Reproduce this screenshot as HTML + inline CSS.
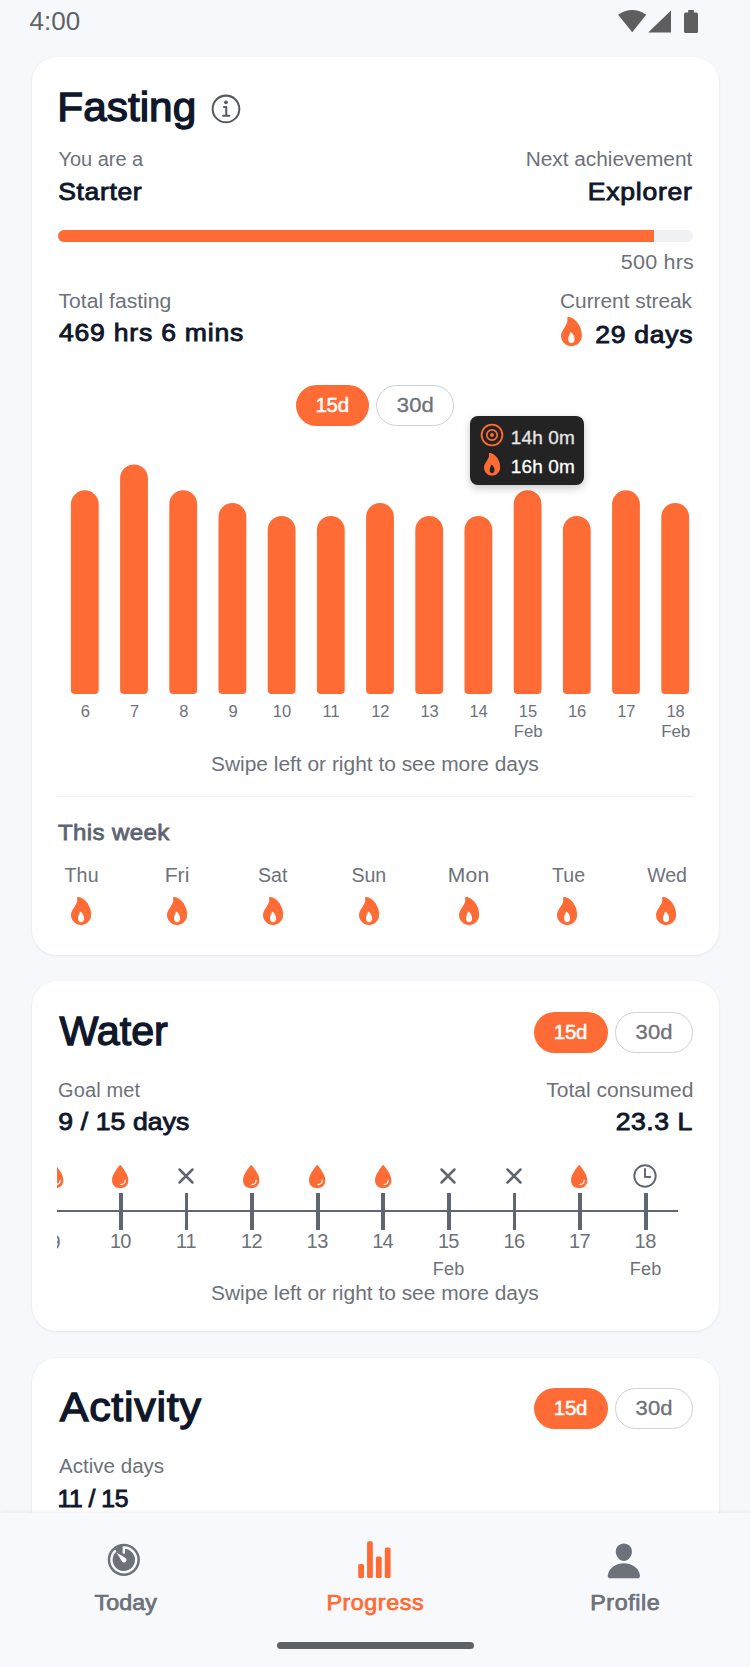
<!DOCTYPE html>
<html lang="en"><head><meta charset="utf-8"><title>Progress</title>
<meta name="viewport" content="width=750">
<style>
*{margin:0;padding:0;box-sizing:border-box}
html,body{width:750px;height:1667px;overflow:hidden;background:#f7f8fc}
body{position:relative;font-family:"Liberation Sans",Arial,sans-serif}
.t{position:absolute;white-space:nowrap;line-height:1;transform-origin:0 50%}
.card{position:absolute;left:31.7px;width:686.9px;background:#fff;border-radius:25px;box-shadow:0 1px 3px rgba(30,35,60,.07),0 0 2px rgba(30,35,60,.04)}
.abs{position:absolute}
.pill{position:absolute;height:41px;border-radius:21px}
.pill.on{background:#ff6b35}
.pill.off{border:1.5px solid #cdd1d8;background:#fff}
.bar{position:absolute;width:27.6px;background:#ff6b35;border-radius:14px 14px 3.5px 3.5px}
svg{position:absolute;overflow:visible}
</style></head><body>

<div class="card" style="top:56.7px;height:898.3px"></div>
<div class="card" style="top:981px;height:349.8px"></div>
<div class="card" style="top:1357.5px;height:400px"></div>
<svg style="left:0;top:0" width="750" height="45" viewBox="0 0 750 45"><g fill="#5e5e5e"><path d="M632.2 32.2 L618.2 14.8 A22.5 22.5 0 0 1 646.2 14.8 Z"/><path d="M671 10.4 V32.5 H648.2 Z"/><path d="M688.2 9.9 h5.6 v2.6 h2.6 a1.6 1.6 0 0 1 1.6 1.6 v17.4 a1.6 1.6 0 0 1 -1.6 1.6 h-10.8 a1.6 1.6 0 0 1 -1.6 -1.6 v-17.4 a1.6 1.6 0 0 1 1.6 -1.6 h2.6 z"/></g></svg>
<svg style="left:208.03px;top:91.33px" width="37.11" height="37.11" viewBox="0 0 512 512"><g fill="none" stroke="#565b63" stroke-width="28" stroke-linecap="round" stroke-linejoin="round"><circle cx="248" cy="248" r="184"/><path d="M220 220h32v116"/><path d="M208 340h88"/></g><circle cx="248" cy="156" r="26" fill="#565b63"/></svg>
<div class="abs" style="left:58px;top:230.2px;width:634.5px;height:12px;border-radius:6px;background:#f0f1f4;overflow:hidden"><div style="width:596.3px;height:12px;background:#ff6b35"></div></div>
<svg style="left:561.20px;top:317.00px" width="20.86" height="29.20" viewBox="96 32 320 448"><path fill="#ff6b35" d="M394.23 197.56a300.43 300.43 0 00-53.38-90C301.2 61.65 249.05 32 208 32a16 16 0 00-15.48 20c13.87 53-14.88 97.07-45.31 143.72C122 234.36 96 274.27 96 320c0 88.22 71.78 160 160 160s160-71.78 160-160c0-43.3-7.32-84.49-21.77-122.44zm-105.9 221.13C278 429.69 265.05 432 256 432s-22-2.31-32.33-13.31S208 390.24 208 368c0-25.14 8.82-44.28 17.34-62.78 4.95-10.74 10-21.67 13-33.37a8 8 0 0112.49-4.51A126.48 126.48 0 01275 292c18.17 24 29 52.42 29 76 0 22.24-5.42 39.77-15.67 50.69z"/></svg>
<div class="pill on" style="left:295.5px;top:384.7px;width:73.8px"></div>
<div class="pill off" style="left:376px;top:384.7px;width:78px"></div>
<svg style="left:0;top:0" width="750" height="700" viewBox="0 0 750 700"><path fill="#ff6b35" d="M70.90 504.20 a13.90 13.90 0 0 1 27.80 0 V690.10 a4 4 0 0 1 -4 4 H74.90 a4 4 0 0 1 -4 -4 Z M120.10 478.30 a13.90 13.90 0 0 1 27.80 0 V690.10 a4 4 0 0 1 -4 4 H124.10 a4 4 0 0 1 -4 -4 Z M169.30 504.20 a13.90 13.90 0 0 1 27.80 0 V690.10 a4 4 0 0 1 -4 4 H173.30 a4 4 0 0 1 -4 -4 Z M218.50 516.90 a13.90 13.90 0 0 1 27.80 0 V690.10 a4 4 0 0 1 -4 4 H222.50 a4 4 0 0 1 -4 -4 Z M267.70 529.80 a13.90 13.90 0 0 1 27.80 0 V690.10 a4 4 0 0 1 -4 4 H271.70 a4 4 0 0 1 -4 -4 Z M316.90 529.80 a13.90 13.90 0 0 1 27.80 0 V690.10 a4 4 0 0 1 -4 4 H320.90 a4 4 0 0 1 -4 -4 Z M366.10 516.90 a13.90 13.90 0 0 1 27.80 0 V690.10 a4 4 0 0 1 -4 4 H370.10 a4 4 0 0 1 -4 -4 Z M415.30 529.80 a13.90 13.90 0 0 1 27.80 0 V690.10 a4 4 0 0 1 -4 4 H419.30 a4 4 0 0 1 -4 -4 Z M464.50 529.80 a13.90 13.90 0 0 1 27.80 0 V690.10 a4 4 0 0 1 -4 4 H468.50 a4 4 0 0 1 -4 -4 Z M513.70 504.20 a13.90 13.90 0 0 1 27.80 0 V690.10 a4 4 0 0 1 -4 4 H517.70 a4 4 0 0 1 -4 -4 Z M562.90 529.80 a13.90 13.90 0 0 1 27.80 0 V690.10 a4 4 0 0 1 -4 4 H566.90 a4 4 0 0 1 -4 -4 Z M612.10 504.20 a13.90 13.90 0 0 1 27.80 0 V690.10 a4 4 0 0 1 -4 4 H616.10 a4 4 0 0 1 -4 -4 Z M661.30 516.90 a13.90 13.90 0 0 1 27.80 0 V690.10 a4 4 0 0 1 -4 4 H665.30 a4 4 0 0 1 -4 -4 Z"/></svg>
<div class="abs" style="left:470.4px;top:415.5px;width:113.6px;height:69.8px;border-radius:8px;background:#232323;box-shadow:0 3px 9px rgba(0,0,0,.22)"></div>
<svg style="left:480px;top:423.2px" width="24" height="24" viewBox="0 0 24 24"><g fill="none" stroke="#ff6b35"><circle cx="12" cy="12" r="10.4" stroke-width="1.8"/><circle cx="12" cy="12" r="5.2" stroke-width="1.7"/></g><circle cx="12" cy="12" r="1.9" fill="#ff6b35"/></svg>
<svg style="left:484.20px;top:453.30px" width="16.14" height="22.60" viewBox="96 32 320 448"><path fill="#ff6b35" d="M394.23 197.56a300.43 300.43 0 00-53.38-90C301.2 61.65 249.05 32 208 32a16 16 0 00-15.48 20c13.87 53-14.88 97.07-45.31 143.72C122 234.36 96 274.27 96 320c0 88.22 71.78 160 160 160s160-71.78 160-160c0-43.3-7.32-84.49-21.77-122.44zm-105.9 221.13C278 429.69 265.05 432 256 432s-22-2.31-32.33-13.31S208 390.24 208 368c0-25.14 8.82-44.28 17.34-62.78 4.95-10.74 10-21.67 13-33.37a8 8 0 0112.49-4.51A126.48 126.48 0 01275 292c18.17 24 29 52.42 29 76 0 22.24-5.42 39.77-15.67 50.69z"/></svg>
<div class="abs" style="left:57px;top:795.5px;width:636px;height:1.5px;background:#f0f1f4"></div>
<svg style="left:70.90px;top:897.00px" width="20.14" height="28.20" viewBox="96 32 320 448"><path fill="#ff6b35" d="M394.23 197.56a300.43 300.43 0 00-53.38-90C301.2 61.65 249.05 32 208 32a16 16 0 00-15.48 20c13.87 53-14.88 97.07-45.31 143.72C122 234.36 96 274.27 96 320c0 88.22 71.78 160 160 160s160-71.78 160-160c0-43.3-7.32-84.49-21.77-122.44zm-105.9 221.13C278 429.69 265.05 432 256 432s-22-2.31-32.33-13.31S208 390.24 208 368c0-25.14 8.82-44.28 17.34-62.78 4.95-10.74 10-21.67 13-33.37a8 8 0 0112.49-4.51A126.48 126.48 0 01275 292c18.17 24 29 52.42 29 76 0 22.24-5.42 39.77-15.67 50.69z"/></svg>
<svg style="left:167.10px;top:897.00px" width="20.14" height="28.20" viewBox="96 32 320 448"><path fill="#ff6b35" d="M394.23 197.56a300.43 300.43 0 00-53.38-90C301.2 61.65 249.05 32 208 32a16 16 0 00-15.48 20c13.87 53-14.88 97.07-45.31 143.72C122 234.36 96 274.27 96 320c0 88.22 71.78 160 160 160s160-71.78 160-160c0-43.3-7.32-84.49-21.77-122.44zm-105.9 221.13C278 429.69 265.05 432 256 432s-22-2.31-32.33-13.31S208 390.24 208 368c0-25.14 8.82-44.28 17.34-62.78 4.95-10.74 10-21.67 13-33.37a8 8 0 0112.49-4.51A126.48 126.48 0 01275 292c18.17 24 29 52.42 29 76 0 22.24-5.42 39.77-15.67 50.69z"/></svg>
<svg style="left:262.90px;top:897.00px" width="20.14" height="28.20" viewBox="96 32 320 448"><path fill="#ff6b35" d="M394.23 197.56a300.43 300.43 0 00-53.38-90C301.2 61.65 249.05 32 208 32a16 16 0 00-15.48 20c13.87 53-14.88 97.07-45.31 143.72C122 234.36 96 274.27 96 320c0 88.22 71.78 160 160 160s160-71.78 160-160c0-43.3-7.32-84.49-21.77-122.44zm-105.9 221.13C278 429.69 265.05 432 256 432s-22-2.31-32.33-13.31S208 390.24 208 368c0-25.14 8.82-44.28 17.34-62.78 4.95-10.74 10-21.67 13-33.37a8 8 0 0112.49-4.51A126.48 126.48 0 01275 292c18.17 24 29 52.42 29 76 0 22.24-5.42 39.77-15.67 50.69z"/></svg>
<svg style="left:358.50px;top:897.00px" width="20.14" height="28.20" viewBox="96 32 320 448"><path fill="#ff6b35" d="M394.23 197.56a300.43 300.43 0 00-53.38-90C301.2 61.65 249.05 32 208 32a16 16 0 00-15.48 20c13.87 53-14.88 97.07-45.31 143.72C122 234.36 96 274.27 96 320c0 88.22 71.78 160 160 160s160-71.78 160-160c0-43.3-7.32-84.49-21.77-122.44zm-105.9 221.13C278 429.69 265.05 432 256 432s-22-2.31-32.33-13.31S208 390.24 208 368c0-25.14 8.82-44.28 17.34-62.78 4.95-10.74 10-21.67 13-33.37a8 8 0 0112.49-4.51A126.48 126.48 0 01275 292c18.17 24 29 52.42 29 76 0 22.24-5.42 39.77-15.67 50.69z"/></svg>
<svg style="left:458.60px;top:897.00px" width="20.14" height="28.20" viewBox="96 32 320 448"><path fill="#ff6b35" d="M394.23 197.56a300.43 300.43 0 00-53.38-90C301.2 61.65 249.05 32 208 32a16 16 0 00-15.48 20c13.87 53-14.88 97.07-45.31 143.72C122 234.36 96 274.27 96 320c0 88.22 71.78 160 160 160s160-71.78 160-160c0-43.3-7.32-84.49-21.77-122.44zm-105.9 221.13C278 429.69 265.05 432 256 432s-22-2.31-32.33-13.31S208 390.24 208 368c0-25.14 8.82-44.28 17.34-62.78 4.95-10.74 10-21.67 13-33.37a8 8 0 0112.49-4.51A126.48 126.48 0 01275 292c18.17 24 29 52.42 29 76 0 22.24-5.42 39.77-15.67 50.69z"/></svg>
<svg style="left:557.40px;top:897.00px" width="20.14" height="28.20" viewBox="96 32 320 448"><path fill="#ff6b35" d="M394.23 197.56a300.43 300.43 0 00-53.38-90C301.2 61.65 249.05 32 208 32a16 16 0 00-15.48 20c13.87 53-14.88 97.07-45.31 143.72C122 234.36 96 274.27 96 320c0 88.22 71.78 160 160 160s160-71.78 160-160c0-43.3-7.32-84.49-21.77-122.44zm-105.9 221.13C278 429.69 265.05 432 256 432s-22-2.31-32.33-13.31S208 390.24 208 368c0-25.14 8.82-44.28 17.34-62.78 4.95-10.74 10-21.67 13-33.37a8 8 0 0112.49-4.51A126.48 126.48 0 01275 292c18.17 24 29 52.42 29 76 0 22.24-5.42 39.77-15.67 50.69z"/></svg>
<svg style="left:655.90px;top:897.00px" width="20.14" height="28.20" viewBox="96 32 320 448"><path fill="#ff6b35" d="M394.23 197.56a300.43 300.43 0 00-53.38-90C301.2 61.65 249.05 32 208 32a16 16 0 00-15.48 20c13.87 53-14.88 97.07-45.31 143.72C122 234.36 96 274.27 96 320c0 88.22 71.78 160 160 160s160-71.78 160-160c0-43.3-7.32-84.49-21.77-122.44zm-105.9 221.13C278 429.69 265.05 432 256 432s-22-2.31-32.33-13.31S208 390.24 208 368c0-25.14 8.82-44.28 17.34-62.78 4.95-10.74 10-21.67 13-33.37a8 8 0 0112.49-4.51A126.48 126.48 0 01275 292c18.17 24 29 52.42 29 76 0 22.24-5.42 39.77-15.67 50.69z"/></svg>
<div class="pill on" style="left:533.5px;top:1011.7px;width:74.5px"></div>
<div class="pill off" style="left:615px;top:1011.7px;width:77.7px"></div>
<div class="pill on" style="left:533.5px;top:1387.7px;width:74.5px"></div>
<div class="pill off" style="left:615px;top:1387.7px;width:77.7px"></div>
<div class="abs" style="left:57.4px;top:1155px;width:640px;height:130px;overflow:hidden">
<div class="abs" style="left:0;top:54.55px;width:620.9px;height:2.3px;background:#5f6672"></div>
<div class="abs" style="left:-3.90px;top:38.30px;width:3.8px;height:36.5px;background:#5f6672"></div>
<svg style="left:-10.89px;top:9.80px" width="16.38" height="23.2" viewBox="112 56 288 408"><path fill="#ff6b35" fill-rule="evenodd" d="M265.12 60.12a12 12 0 00-18.23 0C215.23 97.15 112 225.17 112 320c0 88.37 55.64 144 144 144s144-55.63 144-144c0-94.830-103.23-222.85-134.88-259.88zM272 412a12 12 0 01-11.34-16 11.89 11.89 0 0111.410-8A60.06 60.06 0 00332 328.07a11.890 11.890 0 018-11.41A12 12 0 01356 328a84.090 84.090 0 01-84 84z"/></svg>
<div class="abs" style="left:61.70px;top:38.30px;width:3.8px;height:36.5px;background:#5f6672"></div>
<svg style="left:54.71px;top:9.80px" width="16.38" height="23.2" viewBox="112 56 288 408"><path fill="#ff6b35" fill-rule="evenodd" d="M265.12 60.12a12 12 0 00-18.23 0C215.23 97.15 112 225.17 112 320c0 88.37 55.64 144 144 144s144-55.63 144-144c0-94.830-103.23-222.85-134.88-259.88zM272 412a12 12 0 01-11.34-16 11.89 11.89 0 0111.410-8A60.06 60.06 0 00332 328.07a11.890 11.890 0 018-11.41A12 12 0 01356 328a84.090 84.090 0 01-84 84z"/></svg>
<div class="abs" style="left:127.30px;top:38.30px;width:3.8px;height:36.5px;background:#5f6672"></div>
<svg style="left:120.60px;top:13.20px" width="16" height="16" viewBox="0 0 16 16"><path d="M1.5 1.5 L14.5 14.5 M14.5 1.5 L1.5 14.5" stroke="#5f6672" stroke-width="2.5" stroke-linecap="round" fill="none"/></svg>
<div class="abs" style="left:192.90px;top:38.30px;width:3.8px;height:36.5px;background:#5f6672"></div>
<svg style="left:185.91px;top:9.80px" width="16.38" height="23.2" viewBox="112 56 288 408"><path fill="#ff6b35" fill-rule="evenodd" d="M265.12 60.12a12 12 0 00-18.23 0C215.23 97.15 112 225.17 112 320c0 88.37 55.64 144 144 144s144-55.63 144-144c0-94.830-103.23-222.85-134.88-259.88zM272 412a12 12 0 01-11.34-16 11.89 11.89 0 0111.410-8A60.06 60.06 0 00332 328.07a11.890 11.890 0 018-11.41A12 12 0 01356 328a84.090 84.090 0 01-84 84z"/></svg>
<div class="abs" style="left:258.50px;top:38.30px;width:3.8px;height:36.5px;background:#5f6672"></div>
<svg style="left:251.51px;top:9.80px" width="16.38" height="23.2" viewBox="112 56 288 408"><path fill="#ff6b35" fill-rule="evenodd" d="M265.12 60.12a12 12 0 00-18.23 0C215.23 97.15 112 225.17 112 320c0 88.37 55.64 144 144 144s144-55.63 144-144c0-94.830-103.23-222.85-134.88-259.88zM272 412a12 12 0 01-11.34-16 11.89 11.89 0 0111.410-8A60.06 60.06 0 00332 328.07a11.890 11.890 0 018-11.41A12 12 0 01356 328a84.090 84.090 0 01-84 84z"/></svg>
<div class="abs" style="left:324.10px;top:38.30px;width:3.8px;height:36.5px;background:#5f6672"></div>
<svg style="left:317.11px;top:9.80px" width="16.38" height="23.2" viewBox="112 56 288 408"><path fill="#ff6b35" fill-rule="evenodd" d="M265.12 60.12a12 12 0 00-18.23 0C215.23 97.15 112 225.17 112 320c0 88.37 55.64 144 144 144s144-55.63 144-144c0-94.830-103.23-222.85-134.88-259.88zM272 412a12 12 0 01-11.34-16 11.89 11.89 0 0111.410-8A60.06 60.06 0 00332 328.07a11.890 11.890 0 018-11.41A12 12 0 01356 328a84.090 84.090 0 01-84 84z"/></svg>
<div class="abs" style="left:389.70px;top:38.30px;width:3.8px;height:36.5px;background:#5f6672"></div>
<svg style="left:383.00px;top:13.20px" width="16" height="16" viewBox="0 0 16 16"><path d="M1.5 1.5 L14.5 14.5 M14.5 1.5 L1.5 14.5" stroke="#5f6672" stroke-width="2.5" stroke-linecap="round" fill="none"/></svg>
<div class="abs" style="left:455.30px;top:38.30px;width:3.8px;height:36.5px;background:#5f6672"></div>
<svg style="left:448.60px;top:13.20px" width="16" height="16" viewBox="0 0 16 16"><path d="M1.5 1.5 L14.5 14.5 M14.5 1.5 L1.5 14.5" stroke="#5f6672" stroke-width="2.5" stroke-linecap="round" fill="none"/></svg>
<div class="abs" style="left:520.90px;top:38.30px;width:3.8px;height:36.5px;background:#5f6672"></div>
<svg style="left:513.91px;top:9.80px" width="16.38" height="23.2" viewBox="112 56 288 408"><path fill="#ff6b35" fill-rule="evenodd" d="M265.12 60.12a12 12 0 00-18.23 0C215.23 97.15 112 225.17 112 320c0 88.37 55.64 144 144 144s144-55.63 144-144c0-94.830-103.23-222.85-134.88-259.88zM272 412a12 12 0 01-11.34-16 11.89 11.89 0 0111.410-8A60.06 60.06 0 00332 328.07a11.890 11.890 0 018-11.41A12 12 0 01356 328a84.090 84.090 0 01-84 84z"/></svg>
<div class="abs" style="left:586.50px;top:38.30px;width:3.8px;height:36.5px;background:#5f6672"></div>
<svg style="left:575.70px;top:8.50px" width="24" height="24" viewBox="0 0 24 24"><g fill="none" stroke="#5f6672" stroke-width="1.9" stroke-linecap="round" stroke-linejoin="round"><circle cx="12" cy="12" r="10.7"/><path d="M12 5 V13 H17.3"/></g></svg>
<div class="t" style="left:-2.40px;transform:translateX(-50%);top:76.77px;font-size:20px;color:#6d717a">9</div>
</div>
<div class="t" id="t0" style="left:29.55px;top:8.00px;font-size:26px;color:#5f6368;letter-spacing:0.033px;">4:00</div>
<div class="t" id="t1" style="left:57px;top:87.00px;font-size:40.0px;color:#0f172a;letter-spacing:0.016px;-webkit-text-stroke:1.3px #0f172a;transform:translateX(0.30px) scaleX(1.0580);">Fasting</div>
<div class="t" id="t2" style="left:58.50px;top:149.00px;font-size:20px;color:#6d717a;letter-spacing:-0.025px;">You are a</div>
<div class="t" id="t3" style="left:58px;top:180.00px;font-size:24.7px;color:#0f172a;letter-spacing:0.574px;-webkit-text-stroke:0.9px #0f172a;transform:translateX(0.25px) scaleX(1.0750);">Starter</div>
<div class="t" id="t4" style="left:525px;top:149.00px;font-size:20px;color:#6d717a;letter-spacing:-0.016px;transform:translateX(0.65px) scaleX(1.0427);">Next achievement</div>
<div class="t" id="t5" style="left:587px;top:180.00px;font-size:24.7px;color:#0f172a;letter-spacing:0.724px;-webkit-text-stroke:0.9px #0f172a;transform:translateX(0.65px) scaleX(1.0750);">Explorer</div>
<div class="t" id="t6" style="left:620px;top:252.00px;font-size:20px;color:#6d717a;letter-spacing:0.202px;transform:translateX(0.85px) scaleX(1.0750);">500 hrs</div>
<div class="t" id="t7" style="left:58px;top:291.00px;font-size:20px;color:#6d717a;transform:translateX(0.50px) scaleX(1.0571);">Total fasting</div>
<div class="t" id="t8" style="left:59px;top:321.00px;font-size:24.7px;color:#0f172a;letter-spacing:0.730px;-webkit-text-stroke:0.9px #0f172a;transform:translateX(0.00px) scaleX(1.0750);">469 hrs 6 mins</div>
<div class="t" id="t9" style="left:560px;top:291.00px;font-size:20px;color:#6d717a;transform:translateX(0.00px) scaleX(1.0417);">Current streak</div>
<div class="t" id="t10" style="left:595px;top:323.00px;font-size:24.7px;color:#0f172a;letter-spacing:0.659px;-webkit-text-stroke:0.9px #0f172a;transform:translateX(0.25px) scaleX(1.0750);">29 days</div>
<div class="t" id="t11" style="left:315.40px;top:395.00px;font-size:20.5px;color:#ffffff;letter-spacing:-0.275px;-webkit-text-stroke:0.5px #ffffff;">15d</div>
<div class="t" id="t12" style="left:396px;top:395.00px;font-size:20.5px;color:#6d717a;letter-spacing:0.209px;-webkit-text-stroke:0.3px #6d717a;transform:translateX(0.65px) scaleX(1.0750);">30d</div>
<div class="t" id="t13" style="left:510.70px;top:428.00px;font-size:19px;color:#e6e6e6;letter-spacing:0.160px;-webkit-text-stroke:0.3px #e6e6e6;">14h 0m</div>
<div class="t" id="t14" style="left:510.70px;top:457.00px;font-size:19px;color:#ffffff;letter-spacing:0.160px;-webkit-text-stroke:0.3px #ffffff;">16h 0m</div>
<div class="t" id="t15" style="left:80.70px;top:703.00px;font-size:16.5px;color:#6d717a;">6</div>
<div class="t" id="t16" style="left:130.05px;top:703.00px;font-size:16.5px;color:#6d717a;">7</div>
<div class="t" id="t17" style="left:179.28px;top:703.00px;font-size:16.5px;color:#6d717a;">8</div>
<div class="t" id="t18" style="left:228.38px;top:703.00px;font-size:16.5px;color:#6d717a;">9</div>
<div class="t" id="t19" style="left:272.85px;top:703.00px;font-size:16.5px;color:#6d717a;">10</div>
<div class="t" id="t20" style="left:322.57px;top:703.00px;font-size:16.5px;color:#6d717a;">11</div>
<div class="t" id="t21" style="left:371.18px;top:703.00px;font-size:16.5px;color:#6d717a;">12</div>
<div class="t" id="t22" style="left:420.40px;top:703.00px;font-size:16.5px;color:#6d717a;">13</div>
<div class="t" id="t23" style="left:469.38px;top:703.00px;font-size:16.5px;color:#6d717a;">14</div>
<div class="t" id="t24" style="left:518.73px;top:703.00px;font-size:16.5px;color:#6d717a;">15</div>
<div class="t" id="t25" style="left:513px;top:723.00px;font-size:16.5px;color:#6d717a;transform:translateX(0.75px) scaleX(1.0189);">Feb</div>
<div class="t" id="t26" style="left:567.95px;top:703.00px;font-size:16.5px;color:#6d717a;">16</div>
<div class="t" id="t27" style="left:617.18px;top:703.00px;font-size:16.5px;color:#6d717a;">17</div>
<div class="t" id="t28" style="left:666.40px;top:703.00px;font-size:16.5px;color:#6d717a;">18</div>
<div class="t" id="t29" style="left:661px;top:723.00px;font-size:16.5px;color:#6d717a;letter-spacing:-0.122px;transform:translateX(0.30px) scaleX(1.0286);">Feb</div>
<div class="t" id="t30" style="left:211px;top:754.00px;font-size:20px;color:#6d717a;transform:translateX(0.00px) scaleX(1.0457);">Swipe left or right to see more days</div>
<div class="t" id="t31" style="left:58px;top:822.00px;font-size:22.4px;color:#5d6370;letter-spacing:0.349px;-webkit-text-stroke:0.78px #5d6370;transform:translateX(0.00px) scaleX(1.0750);">This week</div>
<div class="t" id="t32" style="left:64.40px;top:866.00px;font-size:19.6px;color:#6d717a;letter-spacing:0.200px;">Thu</div>
<div class="t" id="t33" style="left:164px;top:866.00px;font-size:19.6px;color:#6d717a;letter-spacing:0.047px;transform:translateX(0.70px) scaleX(1.0750);">Fri</div>
<div class="t" id="t34" style="left:257.90px;top:866.00px;font-size:19.6px;color:#6d717a;letter-spacing:0.075px;">Sat</div>
<div class="t" id="t35" style="left:351.45px;top:866.00px;font-size:19.6px;color:#6d717a;letter-spacing:-0.075px;">Sun</div>
<div class="t" id="t36" style="left:447px;top:866.00px;font-size:19.6px;color:#6d717a;letter-spacing:0.279px;transform:translateX(0.70px) scaleX(1.0750);">Mon</div>
<div class="t" id="t37" style="left:551.95px;top:866.00px;font-size:19.6px;color:#6d717a;letter-spacing:0.125px;">Tue</div>
<div class="t" id="t38" style="left:647.15px;top:866.00px;font-size:19.6px;color:#6d717a;letter-spacing:-0.050px;">Wed</div>
<div class="t" id="t39" style="left:59px;top:1011.00px;font-size:40.0px;color:#0f172a;-webkit-text-stroke:1.3px #0f172a;transform:translateX(0.40px) scaleX(1.0307);">Water</div>
<div class="t" id="t40" style="left:58.00px;top:1080.00px;font-size:20px;color:#6d717a;letter-spacing:0.143px;">Goal met</div>
<div class="t" id="t41" style="left:58px;top:1110.00px;font-size:24.7px;color:#0f172a;letter-spacing:0.121px;-webkit-text-stroke:0.9px #0f172a;transform:translateX(0.25px) scaleX(1.0750);">9 / 15 days</div>
<div class="t" id="t42" style="left:546px;top:1080.00px;font-size:20px;color:#6d717a;letter-spacing:-0.015px;transform:translateX(0.35px) scaleX(1.0510);">Total consumed</div>
<div class="t" id="t43" style="left:615px;top:1110.00px;font-size:24.7px;color:#0f172a;letter-spacing:0.465px;-webkit-text-stroke:0.9px #0f172a;transform:translateX(0.85px) scaleX(1.0750);">23.3 L</div>
<div class="t" id="t44" style="left:553.85px;top:1022.00px;font-size:20.5px;color:#ffffff;letter-spacing:-0.275px;-webkit-text-stroke:0.5px #ffffff;">15d</div>
<div class="t" id="t45" style="left:635px;top:1022.00px;font-size:20.5px;color:#6d717a;letter-spacing:0.093px;-webkit-text-stroke:0.3px #6d717a;transform:translateX(0.60px) scaleX(1.0750);">30d</div>
<div class="t" id="t46" style="left:109.95px;top:1231.00px;font-size:20px;color:#6d717a;letter-spacing:-0.800px;">10</div>
<div class="t" id="t47" style="left:176.05px;top:1231.00px;font-size:20px;color:#6d717a;letter-spacing:-0.250px;">11</div>
<div class="t" id="t48" style="left:241.05px;top:1231.00px;font-size:20px;color:#6d717a;letter-spacing:-0.550px;">12</div>
<div class="t" id="t49" style="left:306.60px;top:1231.00px;font-size:20px;color:#6d717a;letter-spacing:-0.550px;">13</div>
<div class="t" id="t50" style="left:372.15px;top:1231.00px;font-size:20px;color:#6d717a;letter-spacing:-0.800px;">14</div>
<div class="t" id="t51" style="left:437.95px;top:1231.00px;font-size:20px;color:#6d717a;letter-spacing:-0.800px;">15</div>
<div class="t" id="t52" style="left:432.80px;top:1260.00px;font-size:18px;color:#6d717a;letter-spacing:0.275px;">Feb</div>
<div class="t" id="t53" style="left:503.50px;top:1231.00px;font-size:20px;color:#6d717a;letter-spacing:-0.550px;">16</div>
<div class="t" id="t54" style="left:569.05px;top:1231.00px;font-size:20px;color:#6d717a;letter-spacing:-0.550px;">17</div>
<div class="t" id="t55" style="left:634.60px;top:1231.00px;font-size:20px;color:#6d717a;letter-spacing:-0.550px;">18</div>
<div class="t" id="t56" style="left:629.70px;top:1260.00px;font-size:18px;color:#6d717a;letter-spacing:0.275px;">Feb</div>
<div class="t" id="t57" style="left:211px;top:1283.00px;font-size:20px;color:#6d717a;transform:translateX(0.00px) scaleX(1.0457);">Swipe left or right to see more days</div>
<div class="t" id="t58" style="left:59px;top:1387.00px;font-size:40.0px;color:#0f172a;letter-spacing:0.658px;-webkit-text-stroke:1.3px #0f172a;transform:translateX(0.75px) scaleX(1.0750);">Activity</div>
<div class="t" id="t59" style="left:59px;top:1456.00px;font-size:20px;color:#6d717a;letter-spacing:0.005px;transform:translateX(0.00px) scaleX(1.0276);">Active days</div>
<div class="t" id="t60" style="left:57.50px;top:1487.00px;font-size:24.7px;color:#0f172a;letter-spacing:-0.467px;-webkit-text-stroke:0.9px #0f172a;">11 / 15</div>
<div class="t" id="t61" style="left:553.85px;top:1398.00px;font-size:20.5px;color:#ffffff;letter-spacing:-0.275px;-webkit-text-stroke:0.5px #ffffff;">15d</div>
<div class="t" id="t62" style="left:635px;top:1398.00px;font-size:20.5px;color:#6d717a;letter-spacing:0.093px;-webkit-text-stroke:0.3px #6d717a;transform:translateX(0.60px) scaleX(1.0750);">30d</div>
<div class="abs" style="left:0;top:1513.3px;width:750px;height:154px;background:#f8f9fc;box-shadow:0 -1px 4px rgba(40,50,80,.08)"></div>
<svg style="left:104.38px;top:1539.98px" width="39.63" height="39.63" viewBox="0 0 512 512"><circle cx="256" cy="256" r="208" fill="#6d717a"/><path d="M142.9 142.9 A160 160 0 1 0 256 96 L256 162" fill="none" stroke="#f8f9fc" stroke-width="32" stroke-linecap="round" stroke-linejoin="round"/><path d="M162 162 L278.6 233.4 A32 32 0 1 1 233.4 278.6 Z" fill="#f8f9fc"/></svg>
<svg style="left:350px;top:1535px" width="50" height="50" viewBox="350 1535 50 50"><g fill="#ff6b35"><rect x="358.2" y="1564" width="5.8" height="14.1" rx="1.6"/><rect x="367.05" y="1541.3" width="5.8" height="36.8" rx="1.6"/><rect x="375.9" y="1556.5" width="5.8" height="21.6" rx="1.6"/><rect x="384.8" y="1547.5" width="5.8" height="30.6" rx="1.6"/></g></svg>
<svg style="left:604.42px;top:1540.63px" width="39.75" height="39.75" viewBox="0 0 512 512"><path fill="#6d717a" d="M332.64 64.58C313.18 43.57 286 32 256 32c-30.16 0-57.43 11.5-76.8 32.38-19.58 21.11-29.12 49.8-26.88 80.78C156.76 206.28 203.27 256 256 256s99.16-49.71 103.67-110.82c2.27-30.7-7.33-59.33-27.03-80.6zM432 480H80a31 31 0 01-24.2-11.13c-6.5-7.77-9.12-18.38-7.18-29.11C57.06 392.94 83.4 353.61 124.8 326c36.78-24.51 83.37-38 131.2-38s94.42 13.5 131.2 38c41.4 27.6 67.74 66.93 76.18 113.75 1.94 10.73-.68 21.34-7.18 29.11A31 31 0 01432 480z"/></svg>
<div class="abs" style="left:276.5px;top:1642px;width:197px;height:7px;border-radius:3.5px;background:#5f6368"></div>
<div class="t" id="t63" style="left:94px;top:1592.00px;font-size:21.6px;color:#6d717a;letter-spacing:0.081px;-webkit-text-stroke:0.75px #6d717a;transform:translateX(0.60px) scaleX(1.0750);">Today</div>
<div class="t" id="t64" style="left:326px;top:1592.00px;font-size:21.6px;color:#ff6b35;letter-spacing:0.558px;-webkit-text-stroke:0.75px #ff6b35;transform:translateX(0.40px) scaleX(1.0750);">Progress</div>
<div class="t" id="t65" style="left:590px;top:1592.00px;font-size:21.6px;color:#6d717a;letter-spacing:0.550px;-webkit-text-stroke:0.75px #6d717a;transform:translateX(0.25px) scaleX(1.0750);">Profile</div>
</body></html>
